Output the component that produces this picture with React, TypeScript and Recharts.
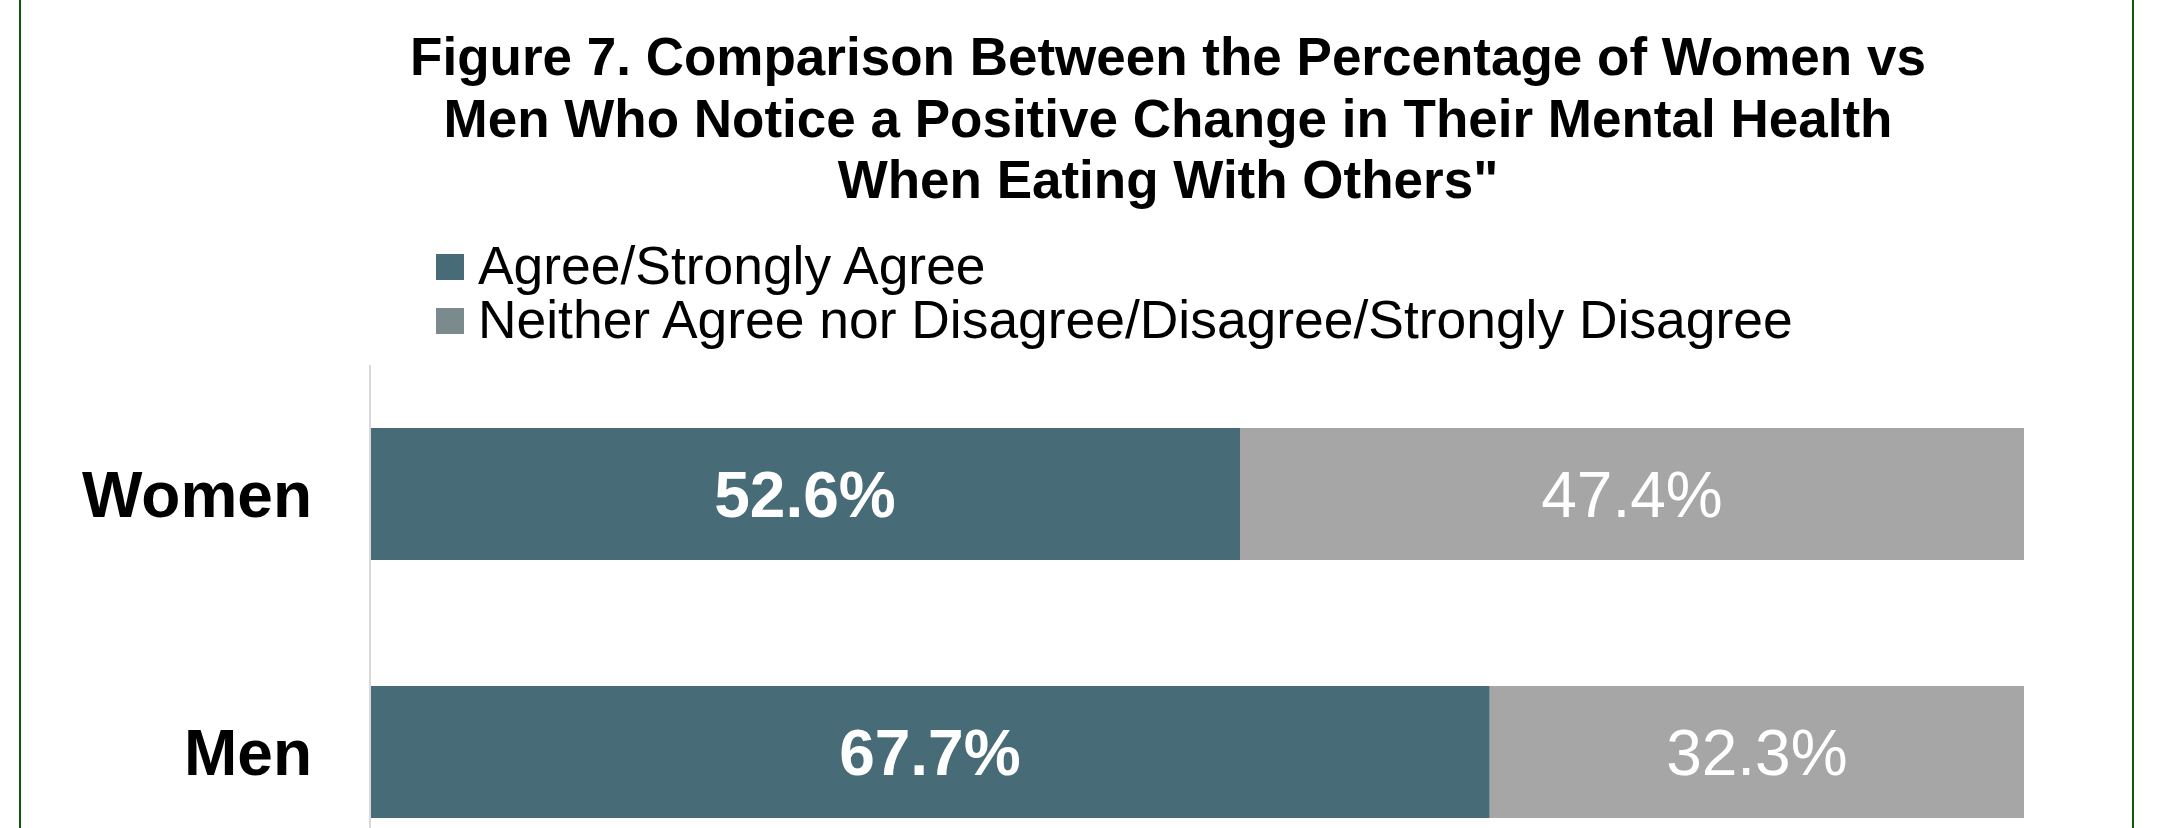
import { BarChart, Bar, XAxis, YAxis, Legend, LabelList } from 'recharts'

const groups = ['Women', 'Men']
const agree = [52.6, 67.7]
const notAgree = [47.4, 32.3]
const seriesNames = ['Agree/Strongly Agree', 'Neither Agree nor Disagree/Disagree/Strongly Disagree']
const titleLines = [
  'Figure 7. Comparison Between the Percentage of Women vs',
  'Men Who Notice a Positive Change in Their Mental Health',
  'When Eating With Others"',
]

const barColors = { agree: '#476C77', notAgree: '#A6A6A6' }
const legendColors: Record<string, string> = { agree: '#476C77', notAgree: '#7A8A8D' }
const font = "'Liberation Sans', Arial, sans-serif"

const data = groups.map((name, i) => ({ name, agree: agree[i], notAgree: notAgree[i] }))

const fmt = (v: any) => `${Number(v).toFixed(1)}%`

const LegendBox = ({ payload }: any) => {
  const items = [...(payload || [])].sort(
    (a: any, b: any) => seriesNames.indexOf(a.value) - seriesNames.indexOf(b.value)
  )
  return (
    <div style={{ position: 'relative' }}>
      {items.map((p: any, i: number) => (
        <div
          key={p.value}
          style={{
            position: 'absolute',
            left: 436,
            top: 240 + i * 54,
            height: 52,
            lineHeight: '52px',
            fontSize: 53.4,
            color: '#000',
            whiteSpace: 'nowrap',
            fontFamily: font,
          }}
        >
          <span
            style={{
              position: 'absolute',
              left: 0,
              top: 13.5,
              width: 28,
              height: 26,
              background: legendColors[p.dataKey],
            }}
          />
          <span style={{ position: 'absolute', left: 42, top: 0 }}>{p.value}</span>
        </div>
      ))}
    </div>
  )
}

export default function App() {
  return (
    <div
      style={{
        position: 'absolute',
        top: 0,
        left: 0,
        width: 2168,
        height: 828,
        overflow: 'hidden',
        background: '#fff',
        fontFamily: font,
      }}
    >
      {/* green frame, only the sides show in the crop */}
      <div
        style={{
          position: 'absolute',
          left: 19,
          top: -10,
          width: 2115,
          height: 900,
          boxSizing: 'border-box',
          borderLeft: '2px solid #0E5A0E',
          borderRight: '2px solid #0E5A0E',
        }}
      />
      <BarChart
        width={2168}
        height={881}
        data={data}
        layout="vertical"
        margin={{ top: 365, right: 144, left: 0, bottom: 0 }}
        style={{ fontFamily: font }}
      >
        <XAxis type="number" domain={[0, 100]} hide />
        <YAxis
          type="category"
          dataKey="name"
          width={370}
          tickLine={false}
          tickMargin={52}
          axisLine={{ stroke: '#D9D9D9', strokeWidth: 2 }}
          tick={{ fill: '#000', fontSize: 64, fontWeight: 700 }}
        />
        <Legend
          layout="vertical"
          verticalAlign="top"
          align="center"
          wrapperStyle={{ top: 0, left: 0 }}
          content={<LegendBox />}
        />
        <Bar
          dataKey="agree"
          name={seriesNames[0]}
          stackId="a"
          fill={barColors.agree}
          barSize={132}
          isAnimationActive={false}
        >
          <LabelList dataKey="agree" position="center" fill="#fff" fontSize={64} fontWeight={700} formatter={fmt} />
        </Bar>
        <Bar
          dataKey="notAgree"
          name={seriesNames[1]}
          stackId="a"
          fill={barColors.notAgree}
          barSize={132}
          isAnimationActive={false}
        >
          <LabelList dataKey="notAgree" position="center" fill="#fff" fontSize={64} fontWeight={400} formatter={fmt} />
        </Bar>
      </BarChart>
      <div
        style={{
          position: 'absolute',
          top: 26,
          left: 168,
          width: 2000,
          textAlign: 'center',
          fontWeight: 700,
          fontSize: 53,
          lineHeight: '61.5px',
          color: '#000',
          whiteSpace: 'nowrap',
        }}
      >
        {titleLines.map((t) => (
          <div key={t}>{t}</div>
        ))}
      </div>
    </div>
  )
}
